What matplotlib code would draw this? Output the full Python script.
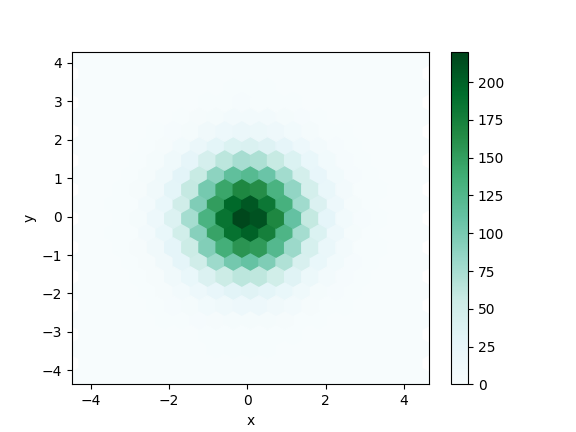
import numpy as np
import matplotlib
matplotlib.use("Agg")
import matplotlib.pyplot as plt

# hexbin extent and grid (matplotlib lattice)
XMIN, XMAX, YMIN, YMAX = -4.3, 4.45, -4.2, 4.1
GRID = 20

# counts, rows from bottom to top, alternating
# lattice A (21 columns) and lattice B (20 columns)
row_a0 = [0]*21
row_b0 = [0]*20
row_a1 = [0,0,0,0,0,0,0,0,1,1,1,1,0,0,0,0,0,0,0,0,0]
row_b1 = [0,0,0,0,0,0,0,1,2,2,2,2,1,0,0,0,0,0,0,0]
row_a2 = [0,0,0,0,0,1,1,3,4,6,6,5,4,2,1,0,0,0,0,0,0]
row_b2 = [0,0,0,0,1,3,5,9,13,15,15,12,8,4,2,1,0,0,0,0]
row_a3 = [0,0,0,0,1,4,8,15,24,31,33,29,21,13,6,3,1,0,0,0,0]
row_b3 = [0,0,0,1,4,11,22,39,55,64,62,50,33,18,8,3,1,0,0,0]
row_a4 = [0,0,0,1,4,12,27,51,80,103,110,97,70,42,21,9,3,1,0,0,0]
row_b4 = [0,0,1,4,11,27,55,95,135,158,153,123,81,44,20,7,2,1,0,0]
row_a5 = [0,0,1,2,8,22,49,92,146,188,200,176,128,76,38,16,5,1,0,0,0]
row_b5 = [0,0,1,5,15,37,76,131,186,218,210,169,111,60,27,10,3,1,0,0]
row_a6 = [0,0,1,2,8,22,51,96,151,195,207,183,133,79,39,16,5,1,0,0,0]
row_b6 = [0,0,1,4,11,29,59,102,144,169,163,131,86,47,21,8,2,1,0,0]
row_a7 = [0,0,0,1,5,13,30,57,89,115,122,108,78,47,23,10,3,1,0,0,0]
row_b7 = [0,0,0,2,5,13,26,45,64,75,72,58,38,21,9,3,1,0,0,0]
row_a8 = [0,0,0,0,2,4,10,19,29,38,40,36,26,15,8,3,1,0,0,0,0]
row_b8 = [0,0,0,0,1,3,6,11,16,19,18,14,9,5,2,1,0,0,0,0]
row_a9 = [0,0,0,0,0,0,2,4,6,7,8,7,5,3,1,0,0,0,0,0,0]
row_b9 = [0,0,0,0,0,0,0,2,2,3,2,2,1,0,0,0,0,0,0,0]
row_a10 = [0,0,0,0,0,0,0,0,0,1,1,1,0,0,0,0,0,0,0,0,0]
row_b10 = [0]*20
row_a11 = [0]*21

rows_a = [row_a0, row_a1, row_a2, row_a3, row_a4, row_a5, row_a6,
          row_a7, row_a8, row_a9, row_a10, row_a11]
rows_b = [row_b0, row_b1, row_b2, row_b3, row_b4, row_b5, row_b6,
          row_b7, row_b8, row_b9, row_b10]

sx = (XMAX - XMIN) / GRID
ny = int(GRID / np.sqrt(3))
sy = (YMAX - YMIN) / ny
xs, ys, cs = [], [], []
for j, r in enumerate(rows_a):
    for i, c in enumerate(r):
        xs.append(XMIN + i*sx); ys.append(YMIN + j*sy); cs.append(c)
for j, r in enumerate(rows_b):
    for i, c in enumerate(r):
        xs.append(XMIN + (i+0.5)*sx); ys.append(YMIN + (j+0.5)*sy); cs.append(c)

fig, ax = plt.subplots(figsize=(5.76, 4.32), dpi=100)
hb = ax.hexbin(xs, ys, C=cs, gridsize=GRID, extent=(XMIN, XMAX, YMIN, YMAX),
               reduce_C_function=np.sum, cmap='BuGn', vmin=0, vmax=220)
fig.colorbar(hb, ax=ax)
ax.set_xlim(-4.48, 4.64)
ax.set_ylim(-4.37, 4.29)
ax.set_xlabel('x')
ax.set_ylabel('y')
fig.savefig('out.png')
